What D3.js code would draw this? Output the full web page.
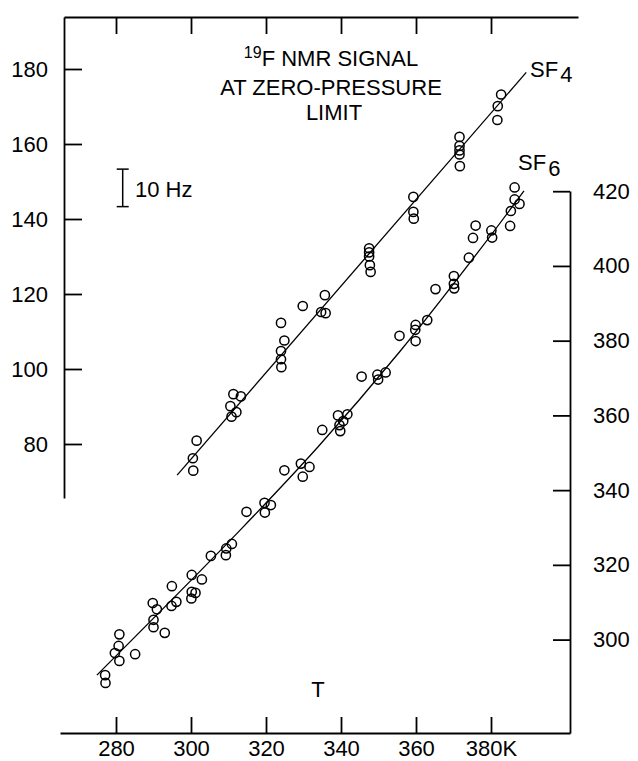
<!DOCTYPE html>
<html>
<head>
<meta charset="utf-8">
<script src="https://cdn.jsdelivr.net/npm/d3@7"></script>
<style>
  body { margin: 0; background: #fff; }
  svg { display: block; font-family: "Liberation Sans", Arial, Helvetica, sans-serif; }
</style>
</head>
<body>
<svg id="drawing_region"></svg>
<script>
// temperatures (K) and 19F NMR signal (Hz)
const sf4T  = [301.5,300.5,300.6,311.3,313.3,310.5,312.1,310.8,324.0,324.9,324.0,324.0,324.1,329.8,335.7,334.7,335.9,
               347.5,347.5,347.5,347.7,347.9,359.3,359.3,359.4,371.6,371.6,371.6,371.6,371.7,382.7,381.8,381.7];
const sf4Hz = [80.9,76.2,72.9,93.3,92.7,90.1,88.5,87.3,112.3,107.6,104.8,102.6,100.5,116.8,119.7,115.2,114.9,
               132.2,131.1,130.0,127.7,125.9,145.9,141.9,140.1,161.9,159.5,158.3,157.2,154.1,173.2,170.1,166.4];

const sf6T  = [277.1,277.2,280.9,280.7,279.7,280.9,285.1,289.8,290.9,290.0,290.0,293.0,294.9,294.8,296.1,
               300.2,302.9,300.2,301.2,300.1,305.3,309.3,309.4,310.9,314.8,319.6,321.3,319.7,324.9,329.3,331.6,329.8,
               335.0,339.2,341.7,340.6,339.6,339.8,345.5,349.7,349.9,351.9,355.6,359.9,359.8,359.9,363.0,
               365.2,370.1,370.1,370.2,374.1,375.2,375.9,380.1,380.3,386.3,386.3,387.6,385.3,385.1];
const sf6Hz = [290.5,288.4,301.4,298.3,296.4,294.3,296.1,309.8,308.1,305.3,303.3,301.8,314.3,309.0,310.1,
               317.3,316.1,312.8,312.5,311.0,322.4,322.6,324.4,325.6,334.2,336.6,336.0,334.0,345.3,347.1,346.2,343.6,
               356.1,360.0,360.3,358.5,357.4,355.8,370.4,370.9,369.6,371.5,381.3,384.2,382.9,379.9,385.5,
               393.8,397.3,395.2,394.0,402.2,407.5,410.8,409.5,407.6,421.0,417.8,416.6,414.7,410.7];

// drawn fit lines
const sf4FitT  = [296.3, 389.4];
const sf4FitHz = [71.7, 179.1];
const sf6FitT  = [274.9, 313.1, 333.9, 355.7, 377.0, 388.8];
const sf6FitHz = [290.5, 329.3, 351.6, 377.1, 404.3, 420.1];

// tick labels
const xTicks     = [280, 300, 320, 340, 360, 380];
const xTickText  = ['280', '300', '320', '340', '360', '380K'];
const leftTicks  = [80, 100, 120, 140, 160, 180];
const rightTicks = [300, 320, 340, 360, 380, 400, 420];

const config = {
    width: 638,
    height: 761,
    top: 17,        // top frame line
    bottom: 733,    // T axis line
    left: 64,       // SF4 axis
    right: 570,     // SF6 axis
    leftAxisEnd: 498,
    rightAxisStart: 191,
    fontSize: 22
};

const svg = d3.select('#drawing_region')
    .attr('width', config.width)
    .attr('height', config.height);

// scales
const xscale = d3.scaleLinear().domain([280, 380]).range([116, 491]);
const yLeft  = d3.scaleLinear().domain([80, 180]).range([444, 69]);
const yRight = d3.scaleLinear().domain([300, 420]).range([639.6, 191.2]);

const styleAxis = g => {
    g.selectAll('path, line').attr('stroke', '#000').attr('stroke-width', 1.8);
    g.selectAll('text').attr('fill', '#000').style('font-size', config.fontSize + 'px');
};

// bottom axis (ticks pointing up, labels below)
const xBottom = xscale.copy()
    .domain([xscale.invert(60), xscale.invert(config.right)])
    .range([60, config.right]);
svg.append('g')
    .attr('transform', `translate(0, ${config.bottom})`)
    .call(d3.axisBottom(xBottom).tickValues(xTicks).tickSizeInner(-16).tickSizeOuter(0)
        .tickPadding(7).tickFormat((d, i) => xTickText[i]))
    .call(styleAxis);

// top frame line (ticks pointing down, no labels)
const xTop = xscale.copy()
    .domain([xscale.invert(config.left), xscale.invert(578)])
    .range([config.left, 578]);
svg.append('g')
    .attr('transform', `translate(0, ${config.top})`)
    .call(d3.axisTop(xTop).tickValues(xTicks).tickSizeInner(-17).tickSizeOuter(0).tickFormat(''))
    .call(styleAxis);

// left axis, SF4
const yL = yLeft.copy()
    .domain([yLeft.invert(config.leftAxisEnd), yLeft.invert(config.top)])
    .range([config.leftAxisEnd, config.top]);
svg.append('g')
    .attr('transform', `translate(${config.left}, 0)`)
    .call(d3.axisLeft(yL).tickValues(leftTicks).tickSizeInner(-18).tickSizeOuter(0).tickPadding(16))
    .call(styleAxis);

// right axis, SF6
const yR = yRight.copy()
    .domain([yRight.invert(config.bottom), yRight.invert(config.rightAxisStart)])
    .range([config.bottom, config.rightAxisStart]);
svg.append('g')
    .attr('transform', `translate(${config.right}, 0)`)
    .call(d3.axisRight(yR).tickValues(rightTicks).tickSizeInner(-17).tickSizeOuter(0).tickPadding(23))
    .call(styleAxis);

// fit lines
const sf4Fit = sf4FitT.map((t, i) => [t, sf4FitHz[i]]);
const sf6Fit = sf6FitT.map((t, i) => [t, sf6FitHz[i]]);

svg.append('path')
    .datum(sf4Fit)
    .attr('fill', 'none')
    .attr('stroke', '#000')
    .attr('stroke-width', 1.3)
    .attr('d', d3.line().x(d => xscale(d[0])).y(d => yLeft(d[1])));

svg.append('path')
    .datum(sf6Fit)
    .attr('fill', 'none')
    .attr('stroke', '#000')
    .attr('stroke-width', 1.3)
    .attr('d', d3.line().curve(d3.curveCatmullRom).x(d => xscale(d[0])).y(d => yRight(d[1])));

// points
const sf4 = sf4T.map((t, i) => ({ t: t, v: sf4Hz[i] }));
const sf6 = sf6T.map((t, i) => ({ t: t, v: sf6Hz[i] }));

svg.append('g').selectAll('circle')
    .data(sf4)
    .join('circle')
    .attr('cx', d => xscale(d.t))
    .attr('cy', d => yLeft(d.v))
    .attr('r', 4.6)
    .attr('fill', 'none')
    .attr('stroke', '#000')
    .attr('stroke-width', 1.5);

svg.append('g').selectAll('circle')
    .data(sf6)
    .join('circle')
    .attr('cx', d => xscale(d.t))
    .attr('cy', d => yRight(d.v))
    .attr('r', 4.6)
    .attr('fill', 'none')
    .attr('stroke', '#000')
    .attr('stroke-width', 1.5);

// title
const title = svg.append('text')
    .attr('text-anchor', 'middle')
    .style('font-size', config.fontSize + 'px')
    .attr('fill', '#000');
const line1 = title.append('tspan').attr('x', 331).attr('y', 66);
line1.append('tspan').style('font-size', '16px').attr('dy', -8).text('19');
line1.append('tspan').attr('dy', 8).text('F NMR SIGNAL');
title.append('tspan').attr('x', 331).attr('y', 95).text('AT ZERO-PRESSURE');
title.append('tspan').attr('x', 334).attr('y', 120).text('LIMIT');

// series labels
const label4 = svg.append('text').attr('x', 530).attr('y', 77)
    .style('font-size', config.fontSize + 'px').attr('fill', '#000');
label4.append('tspan').text('SF');
label4.append('tspan').attr('dy', 5).attr('dx', 2).text('4');

const label6 = svg.append('text').attr('x', 518).attr('y', 170)
    .style('font-size', config.fontSize + 'px').attr('fill', '#000');
label6.append('tspan').text('SF');
label6.append('tspan').attr('dy', 6).attr('dx', 2).text('6');

// 10 Hz scale bar, drawn with the SF4 scale
const barX = 122.7;
const barTop = 153.3, barBottom = 143.3;
const bar = svg.append('g').attr('stroke', '#000').attr('stroke-width', 1.5);
bar.append('line').attr('x1', barX).attr('x2', barX).attr('y1', yLeft(barTop)).attr('y2', yLeft(barBottom));
bar.append('line').attr('x1', barX - 6).attr('x2', barX + 6).attr('y1', yLeft(barTop)).attr('y2', yLeft(barTop));
bar.append('line').attr('x1', barX - 6).attr('x2', barX + 6).attr('y1', yLeft(barBottom)).attr('y2', yLeft(barBottom));
svg.append('text').attr('x', 135).attr('y', 197)
    .style('font-size', config.fontSize + 'px').attr('fill', '#000').text('10 Hz');

// T label
svg.append('text').attr('x', 318).attr('y', 697).attr('text-anchor', 'middle')
    .style('font-size', config.fontSize + 'px').attr('fill', '#000').text('T');
</script>
</body>
</html>
